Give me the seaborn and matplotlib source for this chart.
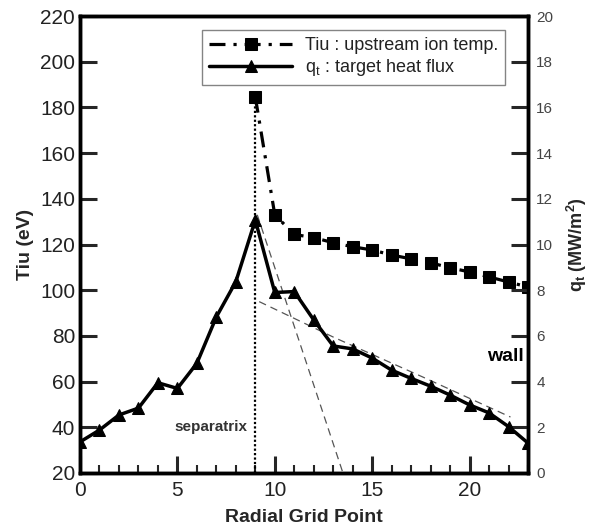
import matplotlib
matplotlib.use('Agg')
import matplotlib.pyplot as plt
import seaborn as sns
from matplotlib.ticker import MultipleLocator

grid_tiu = [9, 10, 11, 12, 13, 14, 15, 16, 17, 18, 19, 20, 21, 22, 23]
tiu = [184.6, 133.0, 124.4, 123.0, 120.8, 119.0, 117.6, 115.4, 113.7, 112.0, 109.8, 108.0, 105.8, 103.6, 101.4]

grid_q = list(range(24))
q_t = [1.36, 1.88, 2.54, 2.84, 3.95, 3.70, 4.80, 6.83, 8.37, 11.07, 7.90, 7.94, 6.70, 5.56, 5.43, 5.03,
       4.50, 4.14, 3.80, 3.41, 2.98, 2.63, 2.03, 1.31]

# thin dashed fit lines (in Tiu units)
fit_steep_x = [9.1, 13.5]
fit_steep_y = [133, 20]
fit_slow_x = [9.2, 13, 17.6, 22.1]
fit_slow_y = [95, 79.5, 62, 44.5]

sep_x = [9, 9]
sep_y = [20, 185]

sns.set_style('ticks')
plt.rcParams['font.family'] = ['Liberation Sans', 'DejaVu Sans']
plt.rcParams['mathtext.fontset'] = 'custom'
plt.rcParams['mathtext.rm'] = 'Liberation Sans'
plt.rcParams['mathtext.bf'] = 'Liberation Sans:bold'
plt.rcParams['axes.linewidth'] = 2.5

fig = plt.figure(figsize=(5.96, 5.30), dpi=100)
ax = fig.add_axes([80 / 596, 1 - 473 / 530, 448 / 596, 457 / 530])
ax2 = ax.twinx()

ax.plot(sep_x, sep_y, color='black', lw=1.6, ls=(0, (1, 1)), zorder=2)
ax.plot(fit_steep_x, fit_steep_y, color='#555555', lw=0.9, ls=(0, (6, 4)), zorder=2)
ax.plot(fit_slow_x, fit_slow_y, color='#555555', lw=0.9, ls=(0, (6, 4)), zorder=2)

sns.lineplot(x=grid_tiu, y=tiu, ax=ax, color='black', lw=2.3, marker='s', markersize=8,
             markeredgecolor='black', linestyle=(0, (5, 2.5, 1, 2.5)), zorder=3,
             label='Tiu : upstream ion temp.', legend=False)
sns.lineplot(x=grid_q, y=q_t, ax=ax2, color='black', lw=2.5, marker='^', markersize=9,
             markeredgecolor='black', zorder=3, label=r'q$_\mathregular{t}$ : target heat flux',
             legend=False)

ax.set_xlim(0, 23)
ax.set_ylim(20, 220)
ax2.set_ylim(0, 20)
ax.xaxis.set_major_locator(MultipleLocator(5))
ax.xaxis.set_minor_locator(MultipleLocator(1))
ax.yaxis.set_major_locator(MultipleLocator(20))
ax2.yaxis.set_major_locator(MultipleLocator(2))

ax.tick_params(axis='both', which='major', direction='in', length=12, width=2.2,
               labelsize=15, labelcolor='#222222', top=False, right=False)
ax.tick_params(axis='x', which='minor', direction='in', length=6, width=1.5, top=False)
ax.tick_params(axis='x', pad=6)
ax2.tick_params(axis='y', direction='in', length=12, width=2.2, labelsize=11,
                labelcolor='#444444', pad=6)

ax.set_xlabel('Radial Grid Point', fontsize=14, fontweight='bold', labelpad=6)
ax.set_ylabel('Tiu (eV)', fontsize=14, fontweight='bold', labelpad=4)
ax2.set_ylabel(r'q$_\mathbf{t}$ (MW/m$^\mathbf{2}$)', fontsize=13, fontweight='bold', labelpad=8)

for a in (ax, ax2):
    for s in a.spines.values():
        s.set_linewidth(2.5)
        s.set_color('black')

ax.text(8.6, 40, 'separatrix', fontsize=11, fontweight='bold', color='#333333',
        ha='right', va='center')
ax2.text(22.8, 5.1, 'wall', fontsize=14, fontweight='bold', color='black',
         ha='right', va='center')

h1, l1 = ax.get_legend_handles_labels()
h2, l2 = ax2.get_legend_handles_labels()
leg = ax2.legend(h1 + h2, l1 + l2, loc='upper left', bbox_to_anchor=(0.272, 0.969),
                 borderaxespad=0, fontsize=13, frameon=True, fancybox=False, handlelength=4.6,
                 borderpad=0.4, labelspacing=0.15, handletextpad=0.7)
leg.get_frame().set_edgecolor('#666666')
leg.get_frame().set_linewidth(1.0)
for t in leg.get_texts():
    t.set_color('#222222')

fig.savefig('out.png', dpi=100)
